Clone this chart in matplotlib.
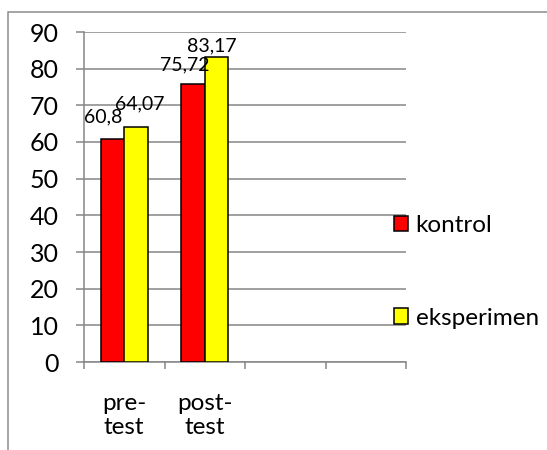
import matplotlib
matplotlib.use("Agg")
import matplotlib.pyplot as plt
from matplotlib.patches import Rectangle
import numpy as np

plt.rcParams['font.family'] = ['Lato', 'DejaVu Sans']

categories = ["pre-\ntest", "post-\ntest"]
kontrol = [60.8, 75.72]
eksperimen = [64.07, 83.17]
series_names = ["kontrol", "eksperimen"]
n_slots = 4

GRID = "#868686"

fig = plt.figure(figsize=(5.47, 4.5), dpi=100)
ax = fig.add_axes([84/547, 1 - 362/450, 322/547, 330/450])

# outer chart frame (partly cut off at right / bottom)
fig.add_artist(Rectangle((7.5/547, -0.1), 1.2, 1.1 - 12/450, transform=fig.transFigure,
                         fill=False, edgecolor="#8c8c8c", linewidth=1.1))

x = np.arange(len(categories)) + 0.5
w = 0.29
b1 = ax.bar(x - w/2, kontrol, w, color="#ff0000", edgecolor="black", linewidth=1.1,
            label=series_names[0], zorder=3)
b2 = ax.bar(x + w/2, eksperimen, w, color="#ffff00", edgecolor="black", linewidth=1.1,
            label=series_names[1], zorder=3)

# data labels (decimal comma), nudged like the original
offsets = [[(-7, 12), (-6, 10)], [(3, 13), (-3, 4)]]
for k, bars in enumerate([b1, b2]):
    for i, rect in enumerate(bars):
        v = rect.get_height()
        ax.annotate(str(v).replace(".", ","),
                    (rect.get_x() + rect.get_width()/2, v),
                    xytext=offsets[k][i], textcoords="offset points",
                    ha="center", va="baseline", fontsize=14, zorder=4)

ax.set_xlim(0, n_slots)
ax.set_ylim(0, 90)
ax.set_yticks(np.arange(0, 91, 10))
ax.yaxis.grid(True, color=GRID, linewidth=1.1, zorder=0)
ax.set_axisbelow(True)

ax.set_xticks(np.arange(0, n_slots + 1))
ax.set_xticklabels([])
ax.set_xticks(x, minor=True)
ax.set_xticklabels(categories, minor=True, fontsize=17.5, linespacing=1.2)
ax.tick_params(axis="x", which="major", length=5, width=1.1, color=GRID, direction="out")
ax.tick_params(axis="x", which="minor", length=0, pad=22)
ax.tick_params(axis="y", length=6, width=1.1, color=GRID, labelsize=18, pad=12)

for s in ["top", "right"]:
    ax.spines[s].set_visible(False)
for s in ["left", "bottom"]:
    ax.spines[s].set_color(GRID)
    ax.spines[s].set_linewidth(1.1)

ax.legend(loc="upper left", bbox_to_anchor=(389/547, 1 - 210/450),
          bbox_transform=fig.transFigure, frameon=False, fontsize=17.5,
          handlelength=0.6, handleheight=0.6, handletextpad=0.3,
          labelspacing=2.95, borderaxespad=0, borderpad=0.2)

fig.savefig("out.png", dpi=100)
